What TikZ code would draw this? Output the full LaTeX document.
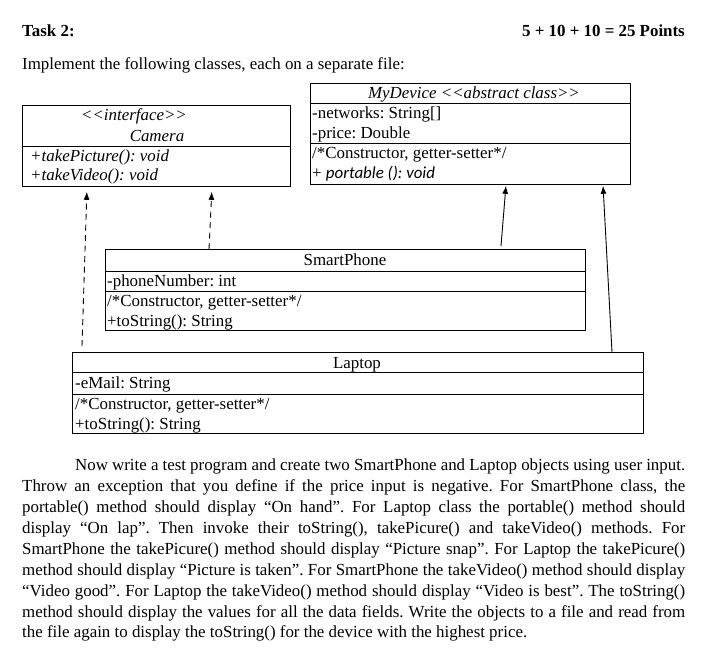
\documentclass[tikz,border=0pt]{standalone}
\usepackage{fontspec}
\setmainfont{Liberation Serif}
\newfontfamily\calfont{Carlito}
\usetikzlibrary{arrows.meta,calc}
\newcommand\lsg{<\kern0pt<}
\newcommand\rsg{>\kern0pt>}
\newcommand\fsz{\fontsize{16.9pt}{20pt}\selectfont\frenchspacing}
\begin{document}
\frenchspacing
\begin{tikzpicture}[x=1pt,y=-1pt,
  every node/.style={inner sep=0pt, font=\fsz},
  box/.style={draw, line width=0.8pt, anchor=north west, minimum width=#1},
  txt/.style={anchor=base west},
  ttl/.style={anchor=base},
  itl/.style={font=\fsz\itshape},
  sep/.style={line width=0.8pt},
  inh/.style={line width=0.9pt, -{Latex[length=8pt,width=6pt]}},
  real/.style={line width=0.9pt, dash pattern=on 6pt off 4.5pt, -{Latex[length=8pt,width=6pt]}},
  bodyline/.style={anchor=base west}]
\useasboundingbox (0,0) rectangle (715,648);
\fill[white] (0,0) rectangle (715,648);

% headings
\node[txt, font=\fsz\bfseries] (task) at (22,36) {Task 2:};
\node[anchor=base east, font=\fsz\bfseries] (pts) at (685,36) {5 + 10 + 10 = 25 Points};
\node[txt] (impl) at (22,69) {Implement the following classes, each on a separate file:};

% Camera
\node[box=268pt, minimum height=81pt] (cam) at (22,105) {};
\draw[sep] (22,146) -- (290,146);
\node[ttl, itl] (camst) at (134,120) {\lsg interface\rsg};
\node[ttl, itl] (camnm) at (157,141) {Camera};
\node[txt, itl] (cam1) at (30,161) {+takePicture(): void};
\node[txt, itl] (cam2) at (30,180) {+takeVideo(): void};

% MyDevice
\node[box=320pt, minimum height=101pt] (dev) at (310,83) {};
\draw[sep] (310,103) -- (630,103);
\draw[sep] (310,143) -- (630,143);
\node[ttl, itl] (devnm) at (474,98) {MyDevice \lsg abstract class\rsg};
\node[txt] (dev1) at (312,118) {-networks: String[]};
\node[txt] (dev2) at (312,138) {-price: Double};
\node[txt] (dev3) at (312,158) {/*Constructor, getter-setter*/};
\node[txt] (dev4) at (312,178) {+ {\calfont\itshape portable (): void}};

% SmartPhone
\node[box=480pt, minimum height=81pt] (sp) at (105,249) {};
\draw[sep] (105,271) -- (585,271);
\draw[sep] (105,291) -- (585,291);
\node[ttl] (spnm) at (345,265) {SmartPhone};
\node[txt] (sp1) at (107,286) {-phoneNumber: int};
\node[txt] (sp2) at (107,306) {/*Constructor, getter-setter*/};
\node[txt] (sp3) at (107,326) {+toString(): String};

% Laptop
\node[box=571pt, minimum height=81pt] (lap) at (72,352) {};
\draw[sep] (72,372) -- (643,372);
\draw[sep] (72,394) -- (643,394);
\node[ttl] (lapnm) at (357,368) {Laptop};
\node[txt] (lap1) at (75,388) {-eMail: String};
\node[txt] (lap2) at (75,409) {/*Constructor, getter-setter*/};
\node[txt] (lap3) at (75,429) {+toString(): String};

% connectors
\draw[real, shorten >=5pt] ([xshift=10pt,yshift=6pt]lap.north west) -- ([xshift=65pt]cam.south west);
\draw[real, shorten >=5pt] ([xshift=104pt]sp.north west) -- ([xshift=190pt]cam.south west);
\draw[inh, shorten >=1pt] ([xshift=396pt,yshift=3pt]sp.north west) -- ([xshift=196pt]dev.south west);
\draw[inh, shorten >=1pt] ([xshift=540pt]lap.north west) -- ([xshift=293pt]dev.south west);

% body text
\node[bodyline] (b1) at (75,470) {\makebox[610pt][s]{Now write a test program and create two SmartPhone and Laptop objects using user input.}};
\node[bodyline] (b2) at (22,491) {\makebox[663pt][s]{Throw an exception that you define if the price input is negative. For SmartPhone class, the}};
\node[bodyline] (b3) at (22,512) {\makebox[663pt][s]{portable() method should display “On hand”. For Laptop class the portable() method should}};
\node[bodyline] (b4) at (22,533) {\makebox[663pt][s]{display “On lap”. Then invoke their toString(), takePicure() and takeVideo() methods. For}};
\node[bodyline] (b5) at (22,554) {\makebox[663pt][s]{SmartPhone the takePicure() method should display “Picture snap”. For Laptop the takePicure()}};
\node[bodyline] (b6) at (22,575) {\makebox[663pt][s]{method should display “Picture is taken”. For SmartPhone the takeVideo() method should display}};
\node[bodyline] (b7) at (22,596) {\makebox[663pt][s]{“Video good”. For Laptop the takeVideo() method should display “Video is best”. The toString()}};
\node[bodyline] (b8) at (22,617) {\makebox[663pt][s]{method should display the values for all the data fields. Write the objects to a file and read from}};
\node[bodyline] (b9) at (22,637) {the file again to display the toString() for the device with the highest price.};
\end{tikzpicture}
\end{document}
